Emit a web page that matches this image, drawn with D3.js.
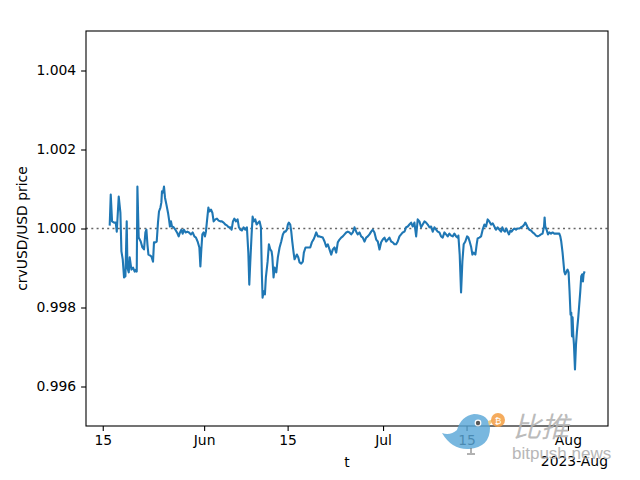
<!DOCTYPE html>
<html><head><meta charset="utf-8">
<script src="https://cdn.jsdelivr.net/npm/d3@7"></script>
<style>body{margin:0;background:#fff}svg{display:block}</style>
</head><body>
<svg id="c" width="640" height="480"></svg>
<script>
// ---- data ----
const startDate = "2023-05-15";           // day 0 of the day offsets below
const days = [
 1.17,1.34,1.56,1.89,2.18,2.35,2.68,2.96,3.13,3.35,3.57,3.80,4.02,4.14,4.36,4.52,4.81,5.08,5.36,5.58,
 5.70,5.81,6.03,6.37,6.65,6.92,7.15,7.32,7.49,7.66,7.92,8.16,8.43,8.59,8.83,9.05,9.26,9.43,9.67,9.83,
 9.93,10.10,10.27,10.44,10.67,10.94,11.11,11.27,11.44,11.61,11.89,12.18,12.45,12.73,12.95,13.18,13.40,13.62,13.90,14.19,14.46,
 14.79,15.08,15.36,15.63,15.91,16.20,16.37,16.53,16.70,16.92,17.14,17.30,17.47,17.71,17.87,18.14,18.38,18.59,18.88,19.15,
 19.43,19.72,19.98,20.27,20.55,20.82,21.11,21.39,21.61,21.83,22.06,22.33,22.61,22.83,23.07,23.33,23.62,23.90,24.17,24.41,
 24.57,24.74,24.96,25.13,25.34,25.58,25.80,26.08,26.30,26.52,26.68,26.80,26.97,27.19,27.35,27.64,27.86,28.09,28.31,
 28.43,28.64,28.81,29.10,29.36,29.65,29.93,30.20,30.44,30.65,30.87,31.04,31.21,31.44,31.61,31.78,32.00,32.16,32.33,32.55,
 32.78,33.00,33.28,33.55,33.72,34.00,34.29,34.56,34.79,35.06,35.34,35.56,35.80,36.07,
 36.35,36.90,37.19,37.47,37.74,38.02,38.31,38.58,38.86,39.15,39.41,39.70,39.98,40.25,40.54,40.82,41.09,41.37,41.66,41.93,
 42.21,42.50,42.76,43.05,43.33,43.60,43.89,44.17,44.44,44.72,45.01,45.28,45.56,45.85,46.12,46.40,46.68,46.95,47.24,47.52,
 47.79,48.07,48.36,48.63,48.91,49.20,49.46,49.75,50.03,50.30,50.59,50.87,51.14,51.42,51.71,51.98,52.26,52.55,52.81,53.10,
 53.38,53.65,53.94,54.22,54.49,54.77,55.06,55.33,55.61,55.90,56.16,56.45,56.73,57.00,
 57.29,57.57,57.84,58.12,58.41,58.68,58.96,59.25,59.51,59.63,59.85,60.08,60.30,60.52,60.80,61.09,61.31,61.52,61.76,61.98,
 62.19,62.48,62.70,62.86,63.15,63.43,63.70,63.99,64.27,64.54,64.82,65.11,65.38,65.66,65.95,66.21,66.50,66.78,67.00,67.22,
 67.45,67.67,67.89,68.12,68.34,68.56,68.79,69.01,69.30,69.56,69.85,70.13,70.40,70.69,70.85,71.02,71.24,71.52,
 71.81,72.08,72.36,72.65,72.91,73.20,73.48,73.75,73.99,74.09,74.20,74.42,74.66,74.87,75.16,75.43,75.71,76.00,76.26,76.55,
 76.72,76.88,77.10,77.39,77.55,77.77,77.94,78.11,78.27,78.44,78.56,78.68,78.78,78.89,79.01,79.18,79.35,79.51,79.73,79.90,
 80.07,80.23,80.40,80.52,80.62,80.74
];
const prices = [
 1.00010,1.00086,1.00018,1.00015,1.00015,0.99992,1.00081,1.00040,0.99942,0.99922,0.99876,0.99879,1.00018,0.99901,0.99889,0.99927,0.99896,0.99901,0.99891,0.99896,
 0.99891,1.00106,0.99977,0.99967,0.99952,0.99947,0.99990,0.99997,0.99960,0.99934,0.99932,0.99929,0.99916,0.99965,0.99965,0.99967,1.00015,1.00043,1.00053,1.00066,
 1.00094,1.00091,1.00106,1.00078,1.00061,1.00040,1.00023,1.00005,1.00018,1.00005,1.00003,0.99997,0.99990,0.99980,0.99990,0.99997,0.99987,0.99997,0.99990,0.99992,0.99990,
 0.99985,0.99990,0.99980,0.99977,0.99967,0.99952,0.99904,0.99947,0.99985,0.99990,0.99980,0.99992,1.00018,1.00053,1.00043,1.00048,1.00040,1.00018,1.00023,1.00025,
 1.00020,1.00018,1.00018,1.00015,1.00010,1.00008,1.00003,1.00003,0.99997,1.00018,1.00025,1.00018,1.00023,1.00003,0.99997,0.99995,1.00003,0.99997,1.00003,0.99939,
 0.99858,0.99916,0.99985,1.00030,1.00018,1.00023,1.00010,1.00015,1.00018,1.00003,0.99884,0.99825,0.99841,0.99833,0.99876,0.99916,0.99960,0.99947,0.99942,
 0.99929,0.99876,0.99901,0.99889,0.99927,0.99952,0.99967,0.99985,0.99992,0.99992,0.99997,1.00010,1.00015,1.00010,0.99992,0.99967,0.99939,0.99922,0.99927,0.99934,
 0.99927,0.99914,0.99911,0.99916,0.99939,0.99952,0.99952,0.99952,0.99952,0.99965,0.99972,0.99980,0.99990,0.99980,
 0.99980,0.99977,0.99967,0.99954,0.99960,0.99947,0.99934,0.99947,0.99952,0.99939,0.99965,0.99972,0.99977,0.99980,0.99985,0.99990,0.99992,0.99990,0.99985,0.99990,
 1.00003,0.99992,0.99985,0.99990,0.99980,0.99977,0.99967,0.99977,0.99980,0.99985,0.99992,0.99997,0.99990,0.99972,0.99967,0.99947,0.99965,0.99972,0.99977,0.99967,
 0.99972,0.99977,0.99967,0.99965,0.99960,0.99960,0.99967,0.99980,0.99985,0.99990,0.99992,1.00003,1.00005,1.00010,1.00015,1.00005,1.00015,0.99980,1.00023,1.00018,
 1.00003,1.00010,1.00018,1.00015,1.00010,1.00003,1.00005,0.99992,1.00003,0.99997,0.99992,0.99990,0.99980,0.99977,
 0.99990,0.99985,0.99980,0.99987,0.99982,0.99980,0.99987,0.99980,0.99977,0.99982,0.99934,0.99838,0.99916,0.99960,0.99967,0.99980,0.99977,0.99967,0.99954,0.99934,
 0.99939,0.99934,0.99960,0.99975,0.99977,0.99980,0.99997,1.00010,1.00005,1.00023,1.00018,1.00010,1.00013,1.00005,0.99997,1.00003,0.99997,0.99992,1.00003,0.99995,
 0.99992,1.00000,0.99992,0.99985,0.99995,0.99992,0.99997,1.00000,0.99997,1.00000,1.00000,1.00003,1.00005,1.00010,1.00015,1.00010,1.00003,0.99997,
 0.99995,0.99990,0.99987,0.99982,0.99980,0.99982,0.99985,0.99987,1.00005,1.00028,1.00005,0.99997,0.99985,0.99990,0.99987,0.99990,0.99987,0.99987,0.99987,0.99987,
 0.99980,0.99967,0.99939,0.99891,0.99884,0.99891,0.99896,0.99889,0.99841,0.99782,0.99787,0.99727,0.99775,0.99732,0.99706,0.99643,0.99706,0.99739,0.99775,0.99808,
 0.99841,0.99879,0.99884,0.99866,0.99884,0.99889
];
const pegValue = 1.0;
const yLimits = [0.995, 1.005];
const yTicks = [0.996, 0.998, 1.000, 1.002, 1.004];
const xTickDates = ["2023-05-15","2023-06-01","2023-06-15","2023-07-01","2023-07-15","2023-08-01"];
const xTickLabels = ["15","Jun","15","Jul","15","Aug"];
const xOffsetLabel = "2023-Aug";
const xLabel = "t";
const yLabel = "crvUSD/USD price";

// ---- build ----
const t0 = Date.parse(startDate + "T00:00:00Z");
const n = Math.min(days.length, prices.length);
const data = d3.range(n).map(i => ({t: new Date(t0 + days[i]*864e5), v: prices[i]}));

const L = 86, R = 608, T = 31, B = 426;
const FONT = "DejaVu Sans, Liberation Sans, sans-serif";
const FS = 13.9;
const svg = d3.select("#c");

const ext = d3.extent(data, d => +d.t);
const pad = (ext[1]-ext[0])*0.05;
const x = d3.scaleUtc().domain([new Date(ext[0]-pad), new Date(ext[1]+pad)]).range([L, R]);
const y = d3.scaleLinear().domain(yLimits).range([B, T]);

// peg line
svg.append("line")
  .attr("x1", L).attr("x2", R).attr("y1", y(pegValue)).attr("y2", y(pegValue))
  .attr("stroke", "#666").attr("stroke-width", 1.5).attr("stroke-dasharray", "2,3.3");

// price line
svg.append("path").datum(data)
  .attr("fill", "none").attr("stroke", "#1f77b4").attr("stroke-width", 2.1)
  .attr("stroke-linejoin", "round").attr("stroke-linecap", "square")
  .attr("d", d3.line().x(d => x(d.t)).y(d => y(d.v)));

// frame
svg.append("rect").attr("x", L).attr("y", T).attr("width", R-L).attr("height", B-T)
  .attr("fill", "none").attr("stroke", "#000").attr("stroke-width", 1.1);

// axes
const xAxis = d3.axisBottom(x)
  .tickValues(xTickDates.map(s => new Date(s + "T00:00:00Z")))
  .tickFormat((d, i) => xTickLabels[i])
  .tickSize(4.9).tickPadding(4.6);
const gx = svg.append("g").attr("transform", `translate(0,${B})`).call(xAxis);
const yAxis = d3.axisLeft(y).tickValues(yTicks).tickFormat(d3.format(".3f"))
  .tickSize(4.9).tickPadding(4.9);
const gy = svg.append("g").attr("transform", `translate(${L},0)`).call(yAxis);
[gx, gy].forEach(g => {
  g.select(".domain").remove();
  g.selectAll(".tick line").attr("stroke", "#000").attr("stroke-width", 1.1);
  g.selectAll(".tick text").attr("fill", "#000").style("font-family", FONT).style("font-size", FS + "px");
});

// labels
svg.append("text").attr("x", (L+R)/2).attr("y", 467).attr("text-anchor", "middle")
  .style("font-family", FONT).style("font-size", FS + "px").text(xLabel);
svg.append("text").attr("x", R).attr("y", 466).attr("text-anchor", "end")
  .style("font-family", FONT).style("font-size", FS + "px").text(xOffsetLabel);
svg.append("text").attr("transform", `translate(27,${(T+B)/2}) rotate(-90)`)
  .attr("text-anchor", "middle")
  .style("font-family", FONT).style("font-size", FS + "px").text(yLabel);

// watermark (bitpush)
const wm = svg.append("g").attr("class", "watermark");
const bird = wm.append("g").attr("opacity", 0.82);
bird.append("path")
  .attr("d", "M442,433 Q450,436 457,430 Q461,416 474,414 Q489,414 490,428 Q490,447 469,449 Q452,450 442,433 Z")
  .attr("fill", "#5ba8d8");
bird.append("circle").attr("cx", 478).attr("cy", 423).attr("r", 3.4).attr("fill", "#fff");
bird.append("circle").attr("cx", 478).attr("cy", 423).attr("r", 2.2).attr("fill", "#333");
bird.append("path").attr("d", "M488,421 L494,419 L489,426 Z").attr("fill", "#e8c36a");
bird.append("path").attr("d", "M471,448 L471,453 M467,454 L475,454").attr("stroke", "#444").attr("stroke-width", 1).attr("fill", "none");
wm.append("circle").attr("cx", 498).attr("cy", 420).attr("r", 7).attr("fill", "#f4a24b").attr("opacity", 0.9);
wm.append("text").attr("x", 498).attr("y", 423.5).attr("text-anchor", "middle")
  .style("font-family", FONT).style("font-size", "9px").attr("fill", "#fff").text("₿");
wm.append("text").attr("x", 513).attr("y", 437)
  .style("font-family", "Noto Sans CJK SC, sans-serif").style("font-size", "28px").style("font-style", "italic")
  .attr("fill", "#b4b4b4").attr("opacity", 0.9).text("比推");
wm.append("text").attr("x", 512).attr("y", 459)
  .style("font-family", "Liberation Sans, Arial, sans-serif").style("font-size", "17px")
  .attr("fill", "#b0b0b0").attr("opacity", 0.9).text("bitpush.news");
</script>
</body></html>
